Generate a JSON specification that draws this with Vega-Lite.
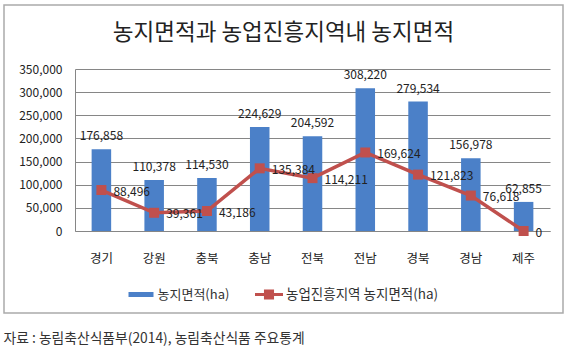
{
  "$schema": "https://vega.github.io/schema/vega-lite/v6.json",
  "width": 559,
  "height": 308,
  "autosize": {"type": "none"},
  "padding": {"left": 4, "top": 5, "right": 8, "bottom": 38},
  "background": "white",
  "title": {
    "text": "농지면적과 농업진흥지역내 농지면적",
    "fontSize": 22.5,
    "fontWeight": "normal",
    "font": "Noto Sans CJK KR",
    "color": "#222222",
    "anchor": "middle",
    "baseline": "middle",
    "offset": -31,
    "dy": 19
  },
  "data": {
    "values": [
      {"region": "경기", "area": 176858, "promo": 88496},
      {"region": "강원", "area": 110378, "promo": 39361},
      {"region": "충북", "area": 114530, "promo": 43186},
      {"region": "충남", "area": 224629, "promo": 135384},
      {"region": "전북", "area": 204592, "promo": 114211},
      {"region": "전남", "area": 308220, "promo": 169624},
      {"region": "경북", "area": 279534, "promo": 121823},
      {"region": "경남", "area": 156978, "promo": 76618},
      {"region": "제주", "area": 62855, "promo": 0}
    ]
  },
  "encoding": {
    "x": {
      "field": "region",
      "type": "nominal",
      "sort": null,
      "scale": {"range": [71, 546], "paddingInner": 0, "paddingOuter": 0},
      "axis": {
        "orient": "bottom",
        "offset": -82,
        "labelPadding": 27,
        "labelBaseline": "middle",
        "labelAngle": 0,
        "labelFontSize": 12.5,
        "domain": true,
        "grid": false,
        "ticks": false,
        "tickSize": 0,
        "title": "자료 : 농림축산식품부(2014), 농림축산식품 주요통계",
        "titleX": -1,
        "titleY": 107,
        "titleAlign": "left",
        "titleAnchor": "start",
        "titleBaseline": "middle",
        "titleFontWeight": "normal",
        "titleFontSize": 13.8,
        "titleColor": "#333333",
        "titleFont": "Noto Sans CJK KR"
      }
    }
  },
  "layer": [
    {
      "mark": {"type": "bar", "width": {"band": 0.37}, "color": "#4B80C8"},
      "encoding": {
        "y": {
          "field": "area",
          "type": "quantitative",
          "title": null,
          "scale": {"domain": [0, 350000], "range": [226, 64], "nice": false, "zero": true},
          "axis": {
            "offset": -71,
            "values": [0, 50000, 100000, 150000, 200000, 250000, 300000, 350000],
            "format": ",d",
            "formatType": "number",
            "labelPadding": 13,
            "labelFontSize": 12,
            "labelOverlap": false,
            "grid": true,
            "domain": true,
            "ticks": false,
            "tickSize": 0
          }
        },
        "color": {
          "datum": "농지면적(ha)",
          "scale": {"range": ["#4B80C8"]},
          "legend": {
            "orient": "none",
            "legendX": 124.5,
            "legendY": 277,
            "title": null,
            "symbolType": "M-1,-0.2H1V0.2H-1Z",
            "symbolSize": 625,
            "symbolStrokeWidth": 0,
            "symbolOpacity": 1,
            "labelFontSize": 13,
            "labelOffset": 4,
            "labelColor": "#333333",
            "padding": 0
          }
        }
      }
    },
    {
      "mark": {"type": "line", "color": "#C0504D", "strokeWidth": 3.5},
      "encoding": {
        "y": {
          "field": "promo",
          "type": "quantitative",
          "title": null,
          "scale": {"domain": [0, 350000], "range": [226, 64], "nice": false, "zero": true},
          "axis": {
            "offset": -71,
            "values": [0, 50000, 100000, 150000, 200000, 250000, 300000, 350000],
            "format": ",d",
            "formatType": "number",
            "labelPadding": 13,
            "labelFontSize": 12,
            "labelOverlap": false,
            "grid": true,
            "domain": true,
            "ticks": false,
            "tickSize": 0
          }
        }
      }
    },
    {
      "mark": {"type": "point", "shape": "square", "filled": true, "size": 100, "opacity": 1},
      "encoding": {
        "y": {
          "field": "promo",
          "type": "quantitative",
          "title": null,
          "scale": {"domain": [0, 350000], "range": [226, 64], "nice": false, "zero": true},
          "axis": {
            "offset": -71,
            "values": [0, 50000, 100000, 150000, 200000, 250000, 300000, 350000],
            "format": ",d",
            "formatType": "number",
            "labelPadding": 13,
            "labelFontSize": 12,
            "labelOverlap": false,
            "grid": true,
            "domain": true,
            "ticks": false,
            "tickSize": 0
          }
        },
        "color": {
          "datum": "농업진흥지역 농지면적(ha)",
          "scale": {"range": ["#C0504D"]},
          "legend": {
            "orient": "none",
            "legendX": 251,
            "legendY": 275.5,
            "title": null,
            "symbolType": "M-1,-0.1H1V0.1H-1Z M-0.36,-0.36H0.36V0.36H-0.36Z",
            "symbolSize": 784,
            "symbolStrokeWidth": 0,
            "symbolOpacity": 1,
            "labelFontSize": 13.5,
            "labelOffset": 3,
            "labelColor": "#333333",
            "padding": 0
          }
        }
      }
    },
    {
      "mark": {"type": "text", "baseline": "middle", "dy": -13, "fontSize": 12, "color": "#222222", "font": "Noto Sans CJK KR"},
      "encoding": {
        "y": {
          "field": "area",
          "type": "quantitative",
          "title": null,
          "scale": {"domain": [0, 350000], "range": [226, 64], "nice": false, "zero": true},
          "axis": {
            "offset": -71,
            "values": [0, 50000, 100000, 150000, 200000, 250000, 300000, 350000],
            "format": ",d",
            "formatType": "number",
            "labelPadding": 13,
            "labelFontSize": 12,
            "labelOverlap": false,
            "grid": true,
            "domain": true,
            "ticks": false,
            "tickSize": 0
          }
        },
        "text": {"field": "area", "type": "quantitative", "format": ","}
      }
    },
    {
      "mark": {"type": "text", "baseline": "middle", "align": "left", "dx": 12, "dy": 1.5, "fontSize": 12, "color": "#222222", "font": "Noto Sans CJK KR"},
      "encoding": {
        "y": {
          "field": "promo",
          "type": "quantitative",
          "title": null,
          "scale": {"domain": [0, 350000], "range": [226, 64], "nice": false, "zero": true},
          "axis": {
            "offset": -71,
            "values": [0, 50000, 100000, 150000, 200000, 250000, 300000, 350000],
            "format": ",d",
            "formatType": "number",
            "labelPadding": 13,
            "labelFontSize": 12,
            "labelOverlap": false,
            "grid": true,
            "domain": true,
            "ticks": false,
            "tickSize": 0
          }
        },
        "text": {"field": "promo", "type": "quantitative", "format": ","}
      }
    }
  ],
  "resolve": {"scale": {"color": "independent"}},
  "config": {
    "font": "Noto Sans CJK KR",
    "view": {"stroke": "#ababab", "strokeWidth": 1.5},
    "axis": {
      "labelFont": "Noto Sans CJK KR",
      "labelColor": "#222222",
      "domainColor": "#868686",
      "domainWidth": 1,
      "gridColor": "#868686",
      "gridWidth": 1
    },
    "legend": {
      "labelFont": "Noto Sans CJK KR"
    }
  }
}
